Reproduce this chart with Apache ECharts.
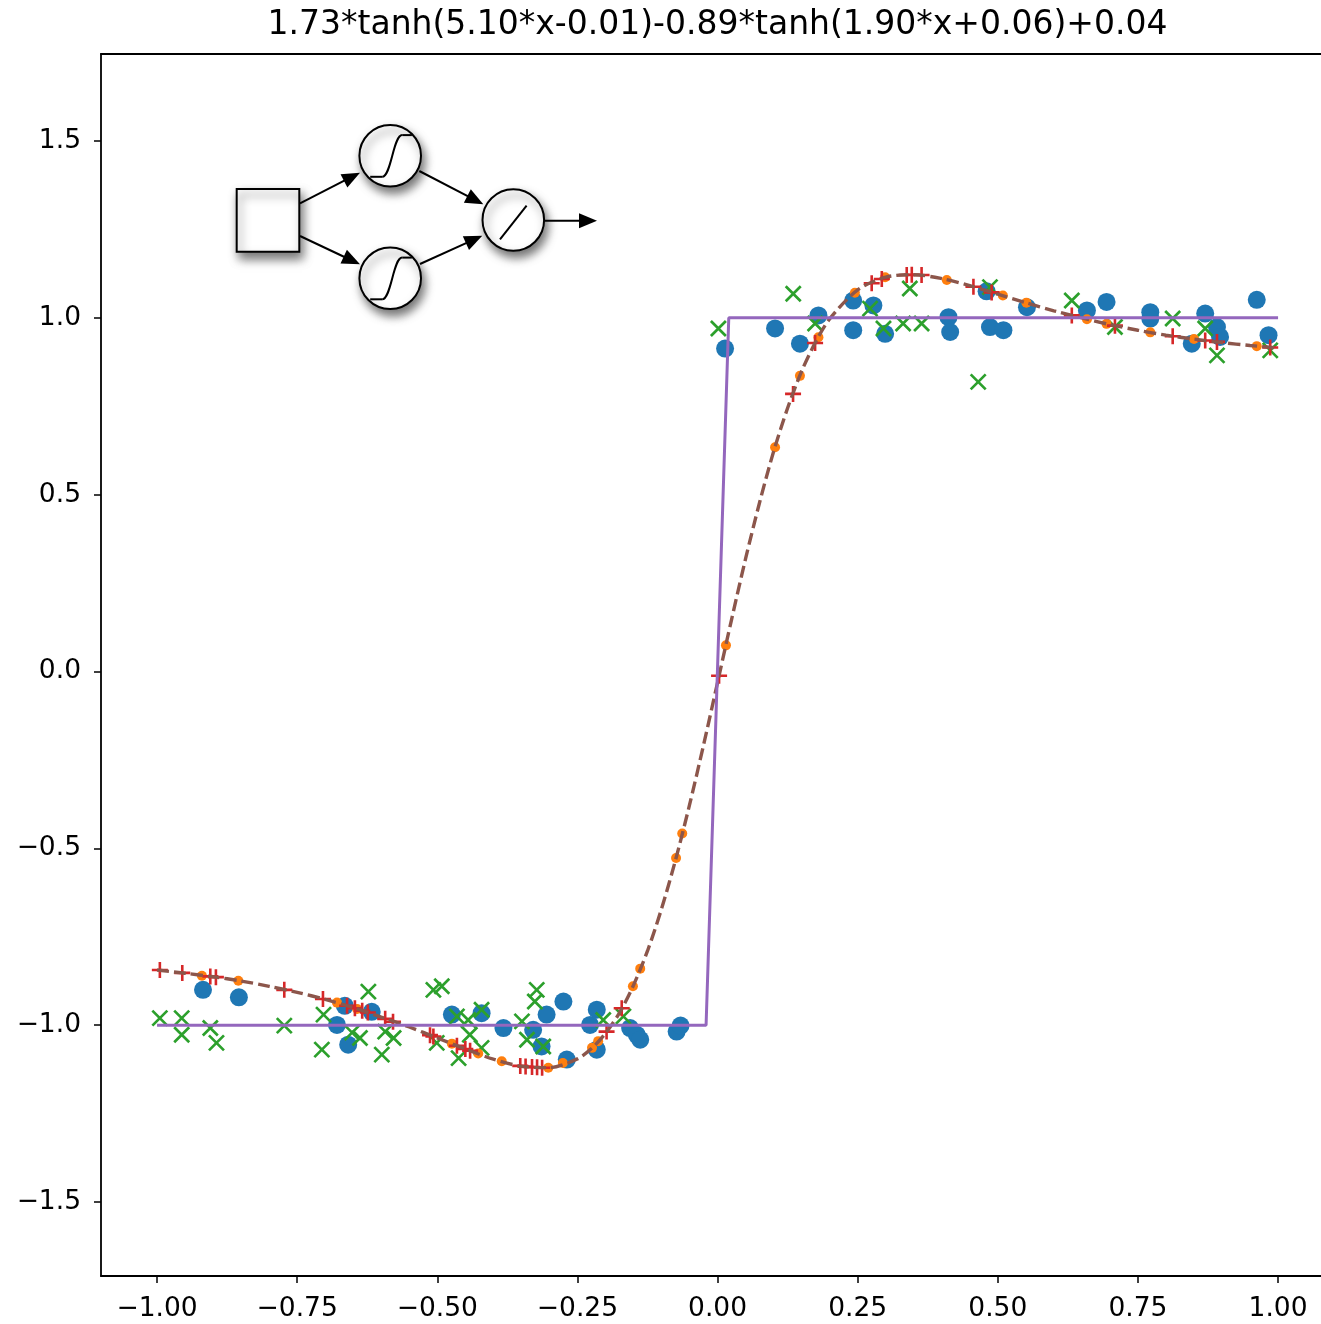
<!DOCTYPE html>
<html>
<head>
<meta charset="utf-8">
<script src="https://cdn.jsdelivr.net/npm/echarts@6/dist/echarts.min.js"></script>
<style>
html,body{margin:0;padding:0;background:#fff;}
#chart{width:1321px;height:1324px;}
</style>
</head>
<body>
<div id="chart"></div>
<script>
const titleText = "1.73*tanh(5.10*x-0.01)-0.89*tanh(1.90*x+0.06)+0.04";

const xTickValues = [-1.0, -0.75, -0.5, -0.25, 0.0, 0.25, 0.5, 0.75, 1.0];
const xTickLabels = ["\u22121.00", "\u22120.75", "\u22120.50", "\u22120.25", "0.00", "0.25", "0.50", "0.75", "1.00"];
const yTickValues = [-1.5, -1.0, -0.5, 0.0, 0.5, 1.0, 1.5];
const yTickLabels = ["\u22121.5", "\u22121.0", "\u22120.5", "0.0", "0.5", "1.0", "1.5"];

// noisy samples (blue circles)
const bluePoints = [
  [-0.918,-0.900],[-0.854,-0.921],[-0.679,-0.999],[-0.665,-0.945],[-0.659,-1.055],
  [-0.617,-0.962],[-0.474,-0.970],[-0.421,-0.966],[-0.382,-1.008],[-0.329,-1.013],
  [-0.305,-0.970],[-0.275,-0.933],[-0.314,-1.060],[-0.269,-1.097],[-0.2275,-0.999],
  [-0.2155,-0.956],[-0.2155,-1.069],[-0.156,-1.008],[-0.144,-1.027],[-0.138,-1.041],
  [-0.073,-1.018],[-0.066,-1.001],
  [0.0134,0.913],[0.1026,0.970],[0.147,0.927],[0.180,1.007],[0.242,1.049],
  [0.242,0.965],[0.278,1.035],[0.299,0.955],[0.412,1.002],[0.415,0.960],
  [0.480,1.075],[0.486,0.974],[0.510,0.965],[0.552,1.030],[0.659,1.021],
  [0.694,1.045],[0.772,1.016],[0.772,0.998],[0.846,0.927],[0.870,1.012],
  [0.891,0.974],[0.8965,0.946],[0.962,1.051],[0.983,0.951]
];

// noisy samples (green x)
const greenPoints = [
  [-0.995,-0.980],[-0.956,-0.980],[-0.956,-1.027],[-0.905,-1.008],[-0.894,-1.050],
  [-0.773,-1.001],[-0.706,-1.069],[-0.703,-0.970],[-0.623,-0.905],[-0.652,-1.021],
  [-0.638,-1.036],[-0.593,-1.018],[-0.578,-1.036],[-0.599,-1.083],[-0.507,-0.900],
  [-0.492,-0.890],[-0.465,-0.975],[-0.445,-0.985],[-0.442,-1.027],[-0.421,-0.956],
  [-0.421,-1.064],[-0.462,-1.093],[-0.501,-1.050],[-0.349,-0.989],[-0.3226,-0.900],
  [-0.326,-0.933],[-0.340,-1.041],[-0.311,-1.060],[-0.204,-0.985],[-0.168,-0.975],
  [0.0015,0.970],[0.135,1.068],[0.174,0.984],[0.272,1.026],[0.296,0.970],
  [0.331,0.984],[0.364,0.984],[0.343,1.083],[0.465,0.819],[0.486,1.087],
  [0.632,1.049],[0.709,0.974],[0.812,0.998],[0.870,0.970],[0.891,0.894],[0.986,0.908]
];

// points on the fitted curve (orange dots)
const orangePoints = [
  [-0.920,-0.860],[-0.855,-0.874],[-0.679,-0.936],[-0.643,-0.954],[-0.474,-1.052],
  [-0.427,-1.080],[-0.385,-1.102],[-0.302,-1.120],[-0.276,-1.107],[-0.224,-1.064],
  [-0.213,-1.045],[-0.151,-0.890],[-0.138,-0.840],[-0.074,-0.527],[-0.063,-0.458],
  [0.015,0.074],[0.1026,0.634],[0.147,0.836],[0.180,0.945],[0.245,1.071],
  [0.299,1.115],[0.409,1.107],[0.509,1.063],[0.551,1.043],[0.659,0.996],
  [0.694,0.983],[0.772,0.959],[0.850,0.940],[0.962,0.920]
];

// points on the fitted curve (red +)
const redPoints = [
  [-0.995,-0.844],[-0.955,-0.852],[-0.905,-0.862],[-0.895,-0.864],[-0.773,-0.900],
  [-0.704,-0.926],[-0.661,-0.945],[-0.647,-0.952],[-0.634,-0.959],[-0.624,-0.964],
  [-0.593,-0.982],[-0.579,-0.990],[-0.513,-1.028],[-0.507,-1.032],[-0.465,-1.058],
  [-0.450,-1.067],[-0.4415,-1.072],[-0.352,-1.115],[-0.3425,-1.117],[-0.331,-1.118],
  [-0.322,-1.119],[-0.313,-1.120],[-0.198,-1.018],[-0.171,-0.952],[0.0027,-0.012],
  [0.1347,0.785],[0.174,0.929],[0.275,1.098],[0.293,1.110],[0.3375,1.121],
  [0.3465,1.122],[0.364,1.121],[0.4565,1.088],[0.489,1.072],[0.632,1.007],
  [0.709,0.978],[0.812,0.948],[0.870,0.936],[0.891,0.932],[0.986,0.916]
];

// fitted curve (brown dashed)
const curveX = [-1.0,-0.95,-0.9,-0.85,-0.8,-0.75,-0.7,-0.65,-0.6,-0.55,-0.5,-0.45,-0.4,-0.35,-0.3,-0.25,-0.225,-0.2,-0.175,-0.15,-0.125,-0.1,-0.075,-0.05,-0.025,0.0,0.025,0.05,0.075,0.1,0.125,0.15,0.175,0.2,0.25,0.3,0.35,0.4,0.45,0.5,0.55,0.6,0.65,0.7,0.75,0.8,0.85,0.9,0.95,1.0];
const curveY = [-0.844,-0.853,-0.863,-0.875,-0.890,-0.907,-0.927,-0.950,-0.977,-1.005,-1.036,-1.067,-1.096,-1.116,-1.120,-1.095,-1.066,-1.023,-0.965,-0.887,-0.790,-0.671,-0.533,-0.377,-0.208,-0.031,0.147,0.319,0.478,0.622,0.745,0.849,0.932,0.997,1.079,1.115,1.122,1.111,1.091,1.067,1.043,1.020,1.000,0.981,0.965,0.951,0.940,0.930,0.922,0.915];

// target step function (purple)
const stepX = [-1.0, -0.0205, 0.02, 1.0];
const stepY = [-1.0, -1.0, 1.0, 1.0];

const curveData = curveX.map((x, i) => [x, curveY[i]]);
const stepData = stepX.map((x, i) => [x, stepY[i]]);

function lookup(vals, labels, v) {
  const i = vals.findIndex(t => Math.abs(t - v) < 1e-9);
  return i >= 0 ? labels[i] : '';
}

// network diagram (decoration)
const shadow = {shadowBlur: 10, shadowColor: 'rgba(0,0,0,0.55)', shadowOffsetX: 3, shadowOffsetY: 6};
function arrow(x1, y1, x2, y2) {
  const dx = x2 - x1, dy = y2 - y1, L = Math.hypot(dx, dy), ux = dx / L, uy = dy / L;
  const hl = 18, hw = 7.5;
  const bx = x2 - ux * hl, by = y2 - uy * hl;
  return [
    {type: 'line', z: 100, shape: {x1: x1, y1: y1, x2: bx + ux * 2, y2: by + uy * 2}, style: {stroke: '#000', lineWidth: 2}},
    {type: 'polygon', z: 100, shape: {points: [[x2, y2], [bx - uy * hw, by + ux * hw], [bx + uy * hw, by - ux * hw]]}, style: {fill: '#000'}}
  ];
}
function sigmoidNode(cx, cy) {
  return {type: 'group', x: cx, y: cy, z: 100, children: [
    {type: 'circle', shape: {cx: 0, cy: 0, r: 30.8}, style: Object.assign({fill: '#fff', stroke: '#000', lineWidth: 2}, shadow)},
    {type: 'polyline', shape: {points: [[-20, 21], [-8, 21]]}, style: {stroke: '#000', lineWidth: 2, fill: null}},
    {type: 'bezierCurve', shape: {x1: -8, y1: 21, cpx1: 1, cpy1: 21, cpx2: 3, cpy2: -20.7, x2: 12, y2: -20.7}, style: {stroke: '#000', lineWidth: 2, fill: null}},
    {type: 'polyline', shape: {points: [[12, -20.7], [21.7, -20.7]]}, style: {stroke: '#000', lineWidth: 2, fill: null}}
  ]};
}
const diagram = [
  {type: 'rect', z: 100, shape: {x: 236.7, y: 189, width: 62.6, height: 62.7}, style: Object.assign({fill: '#fff', stroke: '#000', lineWidth: 2}, shadow)},
  sigmoidNode(390.2, 155.8),
  sigmoidNode(390.2, 278.3),
  {type: 'group', x: 513.3, y: 220, z: 100, children: [
    {type: 'circle', shape: {cx: 0, cy: 0, r: 30.8}, style: Object.assign({fill: '#fff', stroke: '#000', lineWidth: 2}, shadow)},
    {type: 'line', shape: {x1: -13.3, y1: 19.3, x2: 13.3, y2: -14.3}, style: {stroke: '#000', lineWidth: 2}}
  ]},
  ...arrow(300, 203.3, 360, 172.7),
  ...arrow(300, 236, 360, 264.3),
  ...arrow(419.3, 171, 483.3, 204.3),
  ...arrow(420, 264, 482.3, 235.7),
  ...arrow(545, 220.7, 597, 220.7),
  {type: 'text', z: 100, x: 717.5, y: 25, style: {text: titleText, font: '33px "DejaVu Sans"', fill: '#000', textAlign: 'center', textVerticalAlign: 'middle'}}
];

const chart = echarts.init(document.getElementById('chart'), null, {renderer: 'canvas'});
const crossPath = 'path://M0,0L10,10M10,0L0,10';
const plusPath = 'path://M5,0L5,10M0,5L10,5';
const labelFont = {fontSize: 26.5, fontFamily: '"DejaVu Sans"', color: '#000'};

chart.setOption({
  animation: false,
  backgroundColor: '#fff',
  grid: {left: 101, right: 0, top: 54, bottom: 48, containLabel: false},
  xAxis: [{
    type: 'value', min: -1.1, max: 1.0766, position: 'bottom',
    axisLine: {show: true, onZero: false, lineStyle: {color: '#000', width: 1.8}},
    axisTick: {show: true, length: 7, lineStyle: {color: '#000', width: 1.5}, customValues: xTickValues},
    axisLabel: Object.assign({customValues: xTickValues, margin: 20, formatter: v => lookup(xTickValues, xTickLabels, v)}, labelFont),
    splitLine: {show: false}
  }, {
    type: 'value', min: -1.1, max: 1.0766, position: 'top',
    axisLine: {show: true, onZero: false, lineStyle: {color: '#000', width: 1.8}},
    axisTick: {show: false}, axisLabel: {show: false}, splitLine: {show: false}
  }],
  yAxis: {
    type: 'value', min: -1.709, max: 1.746,
    axisLine: {show: true, onZero: false, lineStyle: {color: '#000', width: 1.8}},
    axisTick: {show: true, length: 7, lineStyle: {color: '#000', width: 1.5}, customValues: yTickValues},
    axisLabel: Object.assign({customValues: yTickValues, margin: 20, formatter: v => lookup(yTickValues, yTickLabels, v)}, labelFont),
    splitLine: {show: false}
  },
  graphic: diagram,
  series: [
    {type: 'scatter', data: bluePoints, symbol: 'circle', symbolSize: 18, itemStyle: {color: '#1f77b4', opacity: 1}, z: 2},
    {type: 'scatter', data: greenPoints, symbol: crossPath, symbolSize: 15, itemStyle: {color: 'rgba(0,0,0,0)', borderColor: '#2ca02c', borderWidth: 2.7, opacity: 1}, z: 3},
    {type: 'scatter', data: orangePoints, symbol: 'circle', symbolSize: 10, itemStyle: {color: '#ff7f0e', opacity: 1}, z: 4},
    {type: 'scatter', data: redPoints, symbol: plusPath, symbolSize: 16, itemStyle: {color: 'rgba(0,0,0,0)', borderColor: '#d62728', borderWidth: 2.6, opacity: 1}, z: 5},
    {type: 'line', data: curveData, showSymbol: false, smooth: 0.3, lineStyle: {color: '#8c564b', width: 3.4, type: [12, 5]}, z: 6},
    {type: 'line', data: stepData, showSymbol: false, lineStyle: {color: '#9467bd', width: 3}, z: 7}
  ]
});
</script>
</body>
</html>
